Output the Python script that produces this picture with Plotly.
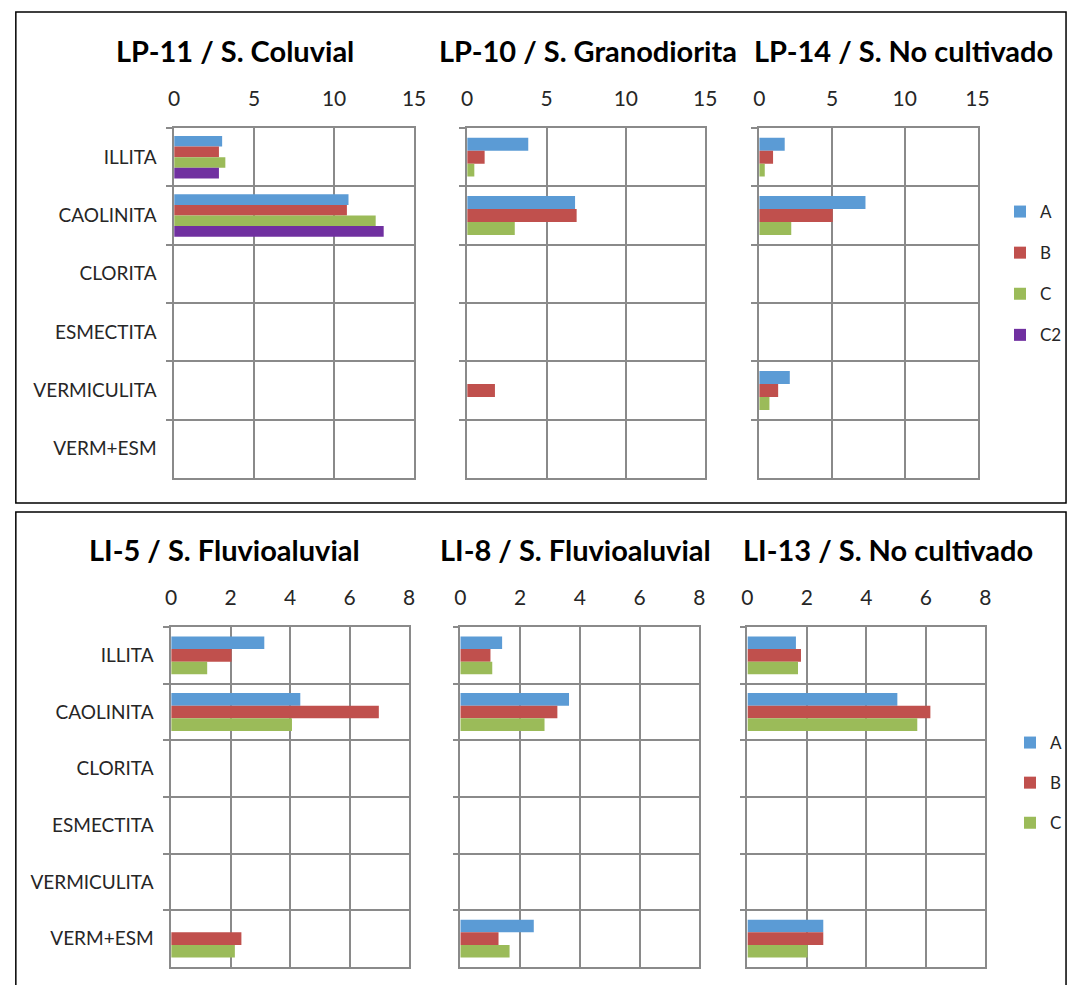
import plotly.graph_objects as go

# ---------------- data ----------------
categories = ["ILLITA", "CAOLINITA", "CLORITA", "ESMECTITA", "VERMICULITA", "VERM+ESM"]

top_titles = ["LP-11 / S. Coluvial", "LP-10 / S. Granodiorita", "LP-14 / S. No cultivado"]
bottom_titles = ["LI-5 / S. Fluvioaluvial", "LI-8 / S. Fluvioaluvial", "LI-13 / S. No cultivado"]

top_ticks = [0, 5, 10, 15]
bottom_ticks = [0, 2, 4, 6, 8]

# top panel series (per sample)
lp11_A = [3.0, 10.9, None, None, None, None]
lp11_B = [2.8, 10.8, None, None, None, None]
lp11_C = [3.2, 12.6, None, None, None, None]
lp11_C2 = [2.8, 13.1, None, None, None, None]

lp10_A = [3.85, 6.8, None, None, None, None]
lp10_B = [1.1, 6.9, None, None, 1.75, None]
lp10_C = [0.45, 3.0, None, None, None, None]

lp14_A = [1.75, 7.3, None, None, 2.1, None]
lp14_B = [0.95, 5.05, None, None, 1.3, None]
lp14_C = [0.38, 2.2, None, None, 0.7, None]

# bottom panel series
li5_A = [3.13, 4.34, None, None, None, None]
li5_B = [2.03, 6.98, None, None, None, 2.36]
li5_C = [1.21, 4.06, None, None, None, 2.14]

li8_A = [1.4, 3.64, None, None, None, 2.46]
li8_B = [1.01, 3.25, None, None, None, 1.28]
li8_C = [1.07, 2.82, None, None, None, 1.65]

li13_A = [1.63, 5.04, None, None, None, 2.55]
li13_B = [1.8, 6.15, None, None, None, 2.55]
li13_C = [1.7, 5.71, None, None, None, 2.02]

colors = {"A": "#5B9BD5", "B": "#C0504D", "C": "#9BBB59", "C2": "#7030A0"}

W, H = 1080, 985
def px(x):
    return x / W
def py(y):
    return 1 - y / H

FONT = "Lato"
TXT = "#262626"
GRID = "#8A8A8A"

fig = go.Figure()

top_series = [
    {"A": lp11_A, "B": lp11_B, "C": lp11_C, "C2": lp11_C2},
    {"A": lp10_A, "B": lp10_B, "C": lp10_C},
    {"A": lp14_A, "B": lp14_B, "C": lp14_C},
]
bottom_series = [
    {"A": li5_A, "B": li5_B, "C": li5_C},
    {"A": li8_A, "B": li8_B, "C": li8_C},
    {"A": li13_A, "B": li13_B, "C": li13_C},
]

def add_panel(series_list, axis_offset, legend_name, group_prefix):
    shown = set()
    names = ["A", "B", "C", "C2"]
    for name in names:
        for k, ser in enumerate(series_list):
            if name not in ser:
                continue
            keys = list(ser.keys())
            n = len(keys)
            i = keys.index(name)
            w = 1.0 / (n + 1.5)
            off = -n * w / 2 + i * w
            idx = axis_offset + k + 1
            fig.add_trace(go.Bar(
                x=ser[name], y=categories, orientation="h",
                name=name, marker=dict(color=colors[name], line=dict(width=0)),
                width=w, offset=off,
                xaxis="x" if idx == 1 else f"x{idx}",
                yaxis="y" if idx == 1 else f"y{idx}",
                legend=legend_name,
                legendgroup=group_prefix + name,
                showlegend=(name not in shown),
                hoverinfo="x+y+name",
            ))
            shown.add(name)

add_panel(top_series, 0, "legend", "top")
add_panel(bottom_series, 3, "legend2", "bot")

layout = dict(
    width=W, height=H,
    autosize=False,
    margin=dict(l=0, r=0, t=0, b=0),
    paper_bgcolor="white", plot_bgcolor="white",
    barmode="overlay",
    font=dict(family=FONT, color=TXT, size=17),
    legend=dict(x=px(1079), y=py(194), xanchor="right", yanchor="top",
                tracegroupgap=16, font=dict(size=17, color=TXT), itemwidth=30,
                bgcolor="rgba(0,0,0,0)"),
    legend2=dict(x=px(1079), y=py(725), xanchor="right", yanchor="top",
                 tracegroupgap=15, font=dict(size=17, color=TXT), itemwidth=30,
                 bgcolor="rgba(0,0,0,0)"),
)

top_dom = [(171, 415), (469, 711), (766, 988)]
bot_dom = [(168, 410), (462, 705), (754, 996)]
top_y = (128, 478)
bot_y = (627, 967)

def axes(idx, xd, yd, rng, ticks, show_labels):
    xs = "xaxis" if idx == 1 else f"xaxis{idx}"
    ys = "yaxis" if idx == 1 else f"yaxis{idx}"
    xa = "x" if idx == 1 else f"x{idx}"
    ya = "y" if idx == 1 else f"y{idx}"
    layout[xs] = dict(
        domain=[px(xd[0]), px(xd[1])], anchor=ya, side="top",
        range=rng, tickvals=ticks, ticktext=[str(t) for t in ticks],
        showgrid=True, gridcolor=GRID, gridwidth=1.6,
        showline=True, linecolor=GRID, linewidth=1.6, mirror=True,
        ticks="", ticklabelstandoff=12, zeroline=False,
        tickfont=dict(size=21, color=TXT, family=FONT), fixedrange=True,
    )
    layout[ys] = dict(
        domain=[py(yd[1]), py(yd[0])], anchor=xa,
        type="category", categoryorder="array", categoryarray=categories,
        autorange="reversed", tickson="boundaries",
        showgrid=True, gridcolor=GRID, gridwidth=1.6,
        showline=True, linecolor=GRID, linewidth=1.6, mirror=True,
        ticks="outside", ticklen=6, tickcolor=GRID, tickwidth=1.6,
        showticklabels=show_labels, ticklabelstandoff=12,
        tickfont=dict(size=19, color=TXT, family=FONT), fixedrange=True,
    )

for k in range(3):
    axes(k + 1, top_dom[k], top_y, [0, 15], top_ticks, k == 0)
for k in range(3):
    axes(k + 4, bot_dom[k], bot_y, [0, 8], bottom_ticks, k == 0)

annotations = []
top_centers = [233, 592, 913]
bot_centers = [222, 579, 897]
for t, c in zip(top_titles, top_centers):
    annotations.append(dict(text=f"<b>{t}</b>", x=px(c), y=py(50), xref="paper", yref="paper",
                            xanchor="center", yanchor="middle", showarrow=False,
                            font=dict(size=29, family=FONT, color="black")))
for t, c in zip(bottom_titles, bot_centers):
    annotations.append(dict(text=f"<b>{t}</b>", x=px(c), y=py(549), xref="paper", yref="paper",
                            xanchor="center", yanchor="middle", showarrow=False,
                            font=dict(size=29, family=FONT, color="black")))
layout["annotations"] = annotations

layout["shapes"] = [
    dict(type="rect", xref="paper", yref="paper", x0=px(10), x1=px(1078), y0=py(503), y1=py(12),
         line=dict(color="black", width=1.5), fillcolor="rgba(0,0,0,0)", layer="below"),
    dict(type="rect", xref="paper", yref="paper", x0=px(10), x1=px(1078), y0=py(1000), y1=py(512),
         line=dict(color="black", width=1.5), fillcolor="rgba(0,0,0,0)", layer="below"),
]

fig.update_layout(**layout)
fig.write_html(
    "out.html",
    config={"displayModeBar": False, "responsive": False},
    post_script="document.body.style.margin='0px';document.body.style.overflow='hidden';"
                "document.documentElement.style.overflow='hidden';",
)
